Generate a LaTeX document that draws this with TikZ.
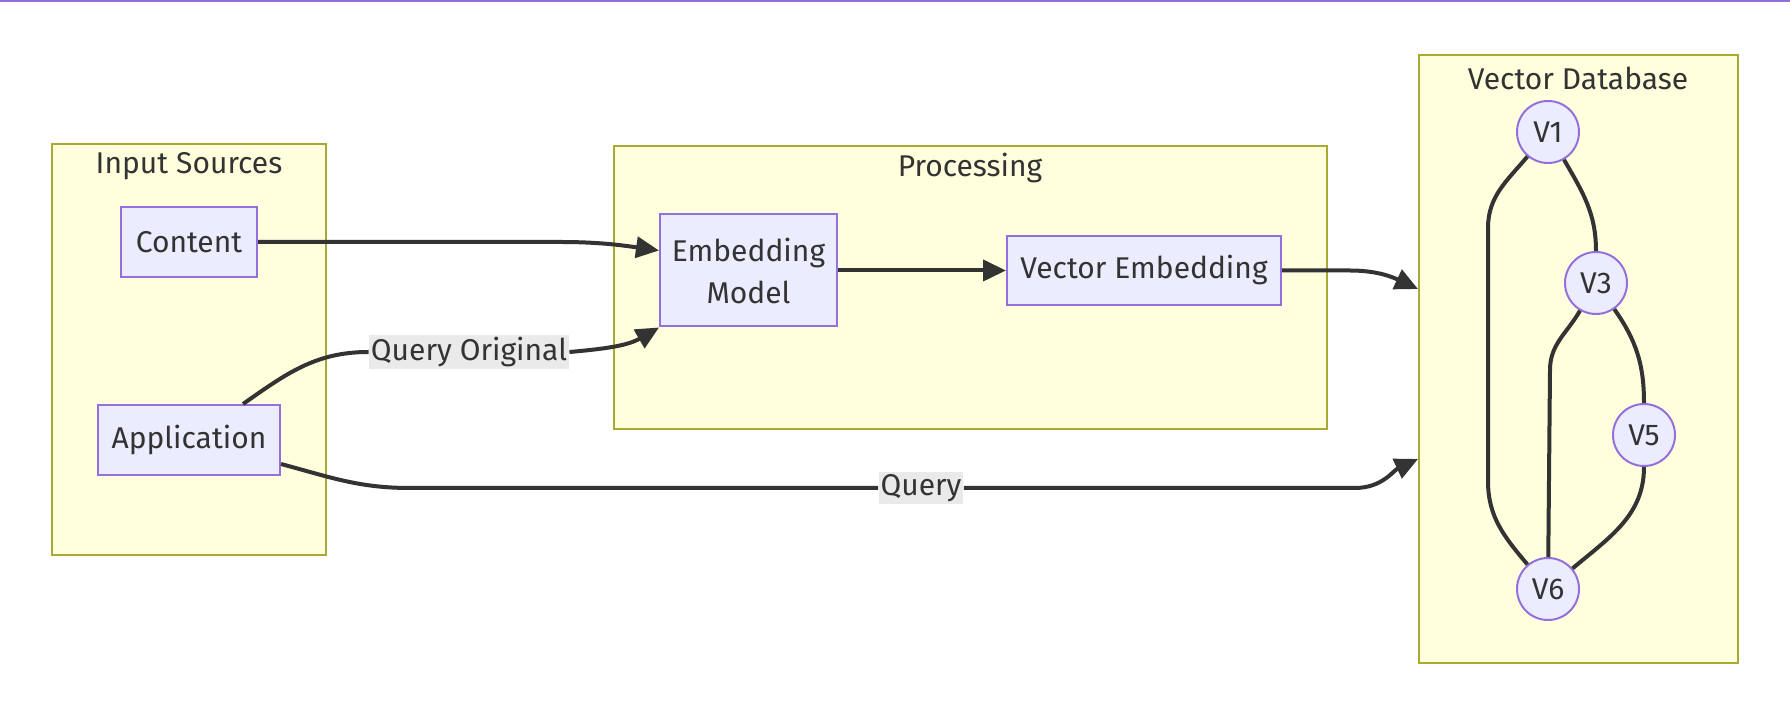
\documentclass[tikz,border=0pt]{standalone}
\usepackage{fontspec}
\setmainfont{Fira Sans}
\usetikzlibrary{arrows.meta, positioning}

\definecolor{grpfill}{HTML}{FFFFDE}
\definecolor{grpline}{HTML}{AAAA33}
\definecolor{boxfill}{HTML}{ECECFF}
\definecolor{boxline}{HTML}{9370DB}
\definecolor{ink}{HTML}{333333}
\definecolor{lblfill}{HTML}{EAEAEA}

\begin{document}
\begin{tikzpicture}[
            x=0.5pt, y=0.5pt,
            >={Triangle[length=11.5pt, width=10.5pt]},
            font=\fontsize{15}{21}\selectfont, text=ink,
            group/.style={rectangle, draw=grpline, fill=grpfill, line width=1pt},
            gtitle/.style={inner sep=0pt},
            box/.style={rectangle, draw=boxline, fill=boxfill, line width=1pt, align=center, inner sep=0pt},
            vec/.style={circle, draw=boxline, fill=boxfill, line width=1pt, minimum size=31pt, inner sep=0pt},
            flow/.style={->, draw=ink, line width=2pt},
            link/.style={draw=ink, line width=2pt},
            elabel/.style={fill=lblfill, inner xsep=1pt, inner ysep=1pt}
        ]

        \useasboundingbox (0,0) rectangle (1790,728);
        \draw[boxline, line width=1.5pt] (0,727) -- (1790,727);

        % Gruppi
        \node[group, minimum width=137pt, minimum height=205.5pt] (input) at (189,378.5) {};
        \node[group, minimum width=356.5pt, minimum height=141.5pt] (proc) at (970.5,440.5) {};
        \node[group, minimum width=159.5pt, minimum height=304pt] (vdb) at (1578.5,369) {};

        \node[gtitle] (tinput) at (189,562) {Input Sources};
        \node[gtitle] (tproc) at (970,560) {Processing};
        \node[gtitle] (tvdb) at (1578,650) {Vector Database};

        % Nodi
        \node[box, minimum width=68pt, minimum height=35pt] (content) at (189,486) {Content};
        \node[box, minimum width=91pt, minimum height=35pt] (app) at (189,288) {Application};
        \node[box, minimum width=88.5pt, minimum height=56pt] (embed) at (748.5,457.5) {Embedding\\Model};
        \node[box, minimum width=137pt, minimum height=34.5pt] (vecemb) at (1144,457.5) {Vector Embedding};

        \node[vec] (v1) at (1548,596) {V1};
        \node[vec] (v3) at (1596,445) {V3};
        \node[vec] (v5) at (1644,293) {V5};
        \node[vec] (v6) at (1548,139) {V6};

        % Etichette dei collegamenti
        \node[elabel] (qorig) at (469,376) {Query Original};
        \node[elabel] (query) at (921,240) {Query};

        % Punti di piega
        \coordinate (cbend) at (560,486);
        \coordinate (vbend) at (1350,457.5);
        \coordinate (qa) at (410,240);
        \coordinate (qb) at (1355,240);
        \coordinate (la) at (1488,500);
        \coordinate (lb) at (1488,247);
        \coordinate (ma) at (1550,358);

        % Collegamenti
        \draw[flow] (content.east) -- (cbend) to[out=0,in=172] ([yshift=10pt]embed.west);
        \draw[link] ([xshift=27pt]app.north) to[out=35,in=180] (qorig.west);
        \draw[flow] (qorig.east) to[out=5,in=210] (embed.south west);
        \draw[flow] (embed) -- (vecemb);
        \draw[flow] (vecemb.east) -- (vbend) to[out=0,in=155] ([yshift=35pt]vdb.west);
        \draw[link] ([yshift=-12pt]app.east) to[out=-15,in=180] (qa) -- (query.west);
        \draw[flow] (query.east) -- (qb) to[out=0,in=205] ([yshift=-50pt]vdb.west);

        % Lati del grafo
        \draw[link] (v1) to[out=-60,in=90] (v3);
        \draw[link] (v1) to[out=-130,in=90] (la) -- (lb) to[out=-90,in=130] (v6);
        \draw[link] (v3) to[out=-120,in=90] (ma) -- (v6);
        \draw[link] (v3) to[out=-55,in=90] (v5);
        \draw[link] (v5) to[out=-90,in=40] (v6);

        \end{tikzpicture}
\end{document}
